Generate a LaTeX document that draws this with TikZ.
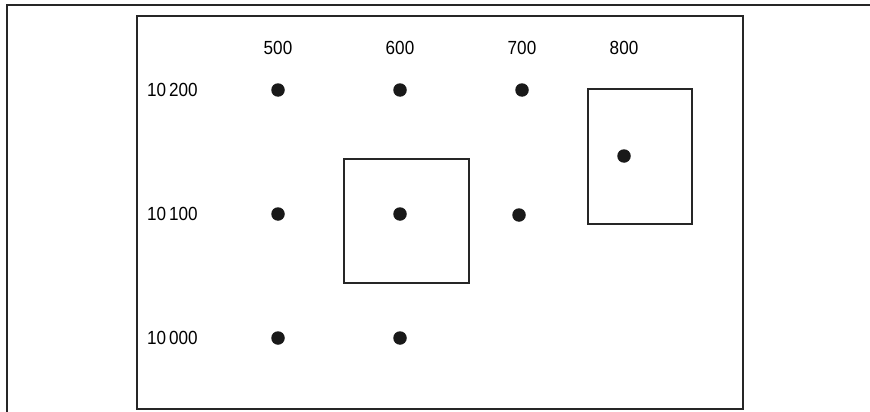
\documentclass[tikz,border=0pt]{standalone}
\usepackage{fontspec}
\setmainfont[FakeStretch=0.9]{Liberation Sans}
\begin{document}
\begin{tikzpicture}[x=1pt,y=-1pt,
  dot/.style={circle,fill=black!90,inner sep=0pt,minimum size=13.5pt},
  lbl/.style={inner sep=0pt,font=\fontsize{19}{21}\selectfont},
  frame/.style={draw=black!85,line width=1.5pt},
  boxsq/.style={draw=black!85,line width=1.3pt}]
\useasboundingbox (0,0) rectangle (870,412);
\draw[frame] (870,5) -- (7,5) -- (7,412);
\draw[frame] (137,16) rectangle (743,409);
\node[lbl] (c500) at (278,48) {500};
\node[lbl] (c600) at (400,48) {600};
\node[lbl] (c700) at (522,48) {700};
\node[lbl] (c800) at (624,48) {800};
\node[lbl,anchor=west] (r200) at (147,90) {10\kern3pt200};
\node[lbl,anchor=west] (r100) at (147,214) {10\kern3pt100};
\node[lbl,anchor=west] (r000) at (147,338) {10\kern3pt000};
\draw[boxsq] (344,159) rectangle (469,283);
\draw[boxsq] (588,89) rectangle (692,224);
\node[dot] (d1) at (278,90) {};
\node[dot] (d2) at (400,90) {};
\node[dot] (d3) at (522,90) {};
\node[dot] (d4) at (278,214) {};
\node[dot] (d5) at (400,214) {};
\node[dot] (d6) at (519,215) {};
\node[dot] (d7) at (278,338) {};
\node[dot] (d8) at (400,338) {};
\node[dot] (d9) at (624,156) {};
\end{tikzpicture}
\end{document}
